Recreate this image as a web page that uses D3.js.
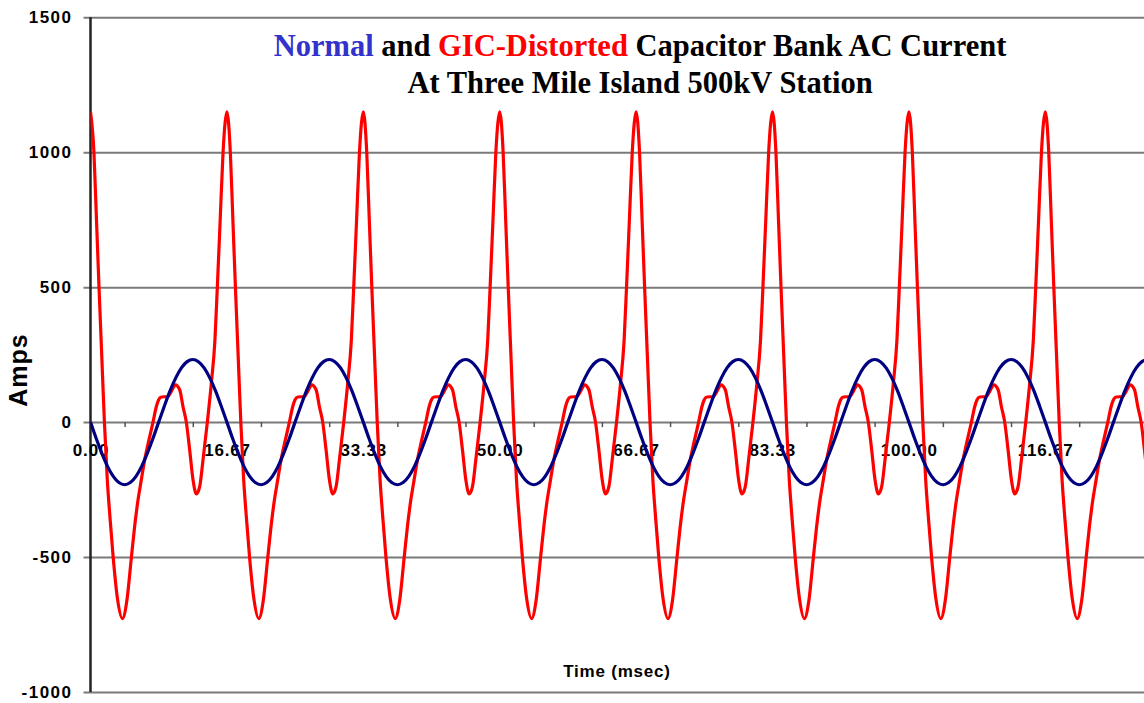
<!DOCTYPE html>
<html>
<head>
<meta charset="utf-8">
<script src="https://cdn.jsdelivr.net/npm/d3@7"></script>
<style>
  body { margin: 0; background: #fff; }
  svg { display: block; }
</style>
</head>
<body>
<svg id="chart"></svg>
<script>
let width = 1144
let height = 703

// --------------------------------------------------------------
// Data (one 60 Hz cycle, repeated every cycle)

const cycleMs = 16.67
const cycleCount = 9

// normal current, one cycle
const normalTime = [0, 0.69, 1.39, 2.08, 2.78, 3.47, 4.17, 4.86, 5.56, 6.25, 6.94, 7.64,
  8.33, 9.03, 9.72, 10.42, 11.11, 11.81, 12.5, 13.19, 13.89, 14.58, 15.28, 15.97]
const normalAmps = [0, -60, -116, -164, -201, -224, -232, -224, -201, -164, -116, -60,
  0, 60, 116, 164, 201, 224, 232, 224, 201, 164, 116, 60]

// GIC-distorted current, one cycle
const gicTime = [0, 0.42, 0.73, 1.04, 1.37, 1.7, 2.05, 2.4, 2.77, 3.3, 3.9, 4.45, 5.0,
  5.4, 5.81, 6.21, 6.62, 7.15, 7.64, 8.05, 8.33, 8.66, 9.47, 9.88, 10.37, 10.9, 11.3,
  11.71, 12.12, 12.53, 12.94, 13.35, 13.75, 14.28, 14.77, 15.2, 15.5, 15.85, 16.2, 16.45]
const gicAmps = [1150, 1000, 750, 500, 250, 0, -213, -360, -500, -655, -728, -660, -500,
  -385, -288, -214, -140, -65, 0, 58, 83, 93, 95, 114, 138, 120, 58,
  0, -103, -214, -266, -238, -140, 0, 145, 300, 500, 750, 1000, 1110]

const xLabelValues = [0, 16.67, 33.33, 50, 66.67, 83.33, 100, 116.67]
const xLabels = ['0.00', '16.67', '33.33', '50.00', '66.67', '83.33', '100.00', '116.67']
const xMinorTicks = [4.17, 12.5, 20.83, 29.17, 37.5, 45.83, 54.17, 62.5, 70.83, 79.17,
  87.5, 95.83, 104.17, 112.5, 120.83, 129.17]
const yTicks = [-1000, -500, 0, 500, 1000, 1500]

// lay the measured cycle end to end
function buildSeries(times, amps) {
  let out = []
  for (let c = 0; c < cycleCount; c++) {
    times.forEach((t, i) => out.push({ t: c * cycleMs + t, v: amps[i] }))
  }
  return out
}
const normalData = buildSeries(normalTime, normalAmps)
const gicData = buildSeries(gicTime, gicAmps)

// --------------------------------------------------------------
// Scales

const plotLeft = 90.5
const plotTop = 17.3
const plotBottom = 692

const x = d3.scaleLinear().domain([0, 8 * cycleMs]).range([plotLeft, plotLeft + 8 * 136.4])
const y = d3.scaleLinear().domain([-1000, 1500]).range([plotBottom, plotTop])

const svg = d3.select('#chart').attr('width', width).attr('height', height)

svg.append('defs').append('clipPath').attr('id', 'plotClip')
  .append('rect')
  .attr('x', plotLeft)
  .attr('y', plotTop - 10)
  .attr('width', width - plotLeft)
  .attr('height', plotBottom - plotTop + 20)

// --------------------------------------------------------------
// Grid + axes

const grid = svg.append('g')
  .attr('transform', `translate(${plotLeft - 7},0)`)
  .call(d3.axisRight(y).tickValues(yTicks).tickSize(width).tickFormat(''))
grid.select('.domain').remove()
grid.selectAll('line').attr('stroke', '#7a7a7a').attr('stroke-width', 2)

const yAxis = svg.append('g')
  .attr('transform', `translate(${plotLeft},0)`)
  .call(d3.axisLeft(y).tickValues(yTicks).tickSize(0).tickPadding(18).tickFormat((d) => String(d)))
yAxis.select('.domain').remove()
yAxis.selectAll('text')
  .attr('font-family', 'Liberation Sans, Arial, sans-serif')
  .attr('font-weight', 'bold')
  .attr('font-size', '17px')
  .attr('letter-spacing', '1.5px')
  .attr('fill', '#000')

svg.append('line')
  .attr('x1', plotLeft).attr('x2', plotLeft)
  .attr('y1', plotTop).attr('y2', plotBottom)
  .attr('stroke', '#222')
  .attr('stroke-width', 2.5)

const xTicks = svg.append('g')
  .attr('transform', `translate(0,${y(0)})`)
  .call(d3.axisBottom(x).tickValues(xMinorTicks).tickSize(5).tickFormat(''))
xTicks.select('.domain').remove()
xTicks.selectAll('line').attr('stroke', '#555').attr('stroke-width', 1.5)

const xAxis = svg.append('g')
  .attr('transform', `translate(0,${y(0)})`)
  .call(d3.axisBottom(x).tickValues(xLabelValues).tickSize(0).tickPadding(22)
    .tickFormat((d, i) => xLabels[i]))
xAxis.select('.domain').remove()
xAxis.selectAll('text')
  .attr('font-family', 'Liberation Sans, Arial, sans-serif')
  .attr('font-weight', 'bold')
  .attr('font-size', '17px')
  .attr('letter-spacing', '0.8px')
  .attr('fill', '#000')

// --------------------------------------------------------------
// Lines

const line = d3.line()
  .x((d) => x(d.t))
  .y((d) => y(d.v))
  .curve(d3.curveMonotoneX)

const plot = svg.append('g').attr('clip-path', 'url(#plotClip)')

plot.append('path')
  .datum(gicData)
  .attr('d', line)
  .attr('fill', 'none')
  .attr('stroke', '#ff0000')
  .attr('stroke-width', 3.2)

plot.append('path')
  .datum(normalData)
  .attr('d', line)
  .attr('fill', 'none')
  .attr('stroke', '#000080')
  .attr('stroke-width', 3.2)

// --------------------------------------------------------------
// Titles

const title = svg.append('text')
  .attr('x', 640)
  .attr('y', 56)
  .attr('text-anchor', 'middle')
  .attr('font-family', 'Liberation Serif, Times New Roman, serif')
  .attr('font-weight', 'bold')
  .attr('font-size', '30.5px')
title.append('tspan').attr('fill', '#3333cc').text('Normal')
title.append('tspan').attr('fill', '#000').text(' and ')
title.append('tspan').attr('fill', '#ff0000').text('GIC-Distorted')
title.append('tspan').attr('fill', '#000').text(' Capacitor Bank AC Current')

svg.append('text')
  .attr('x', 640)
  .attr('y', 93)
  .attr('text-anchor', 'middle')
  .attr('font-family', 'Liberation Serif, Times New Roman, serif')
  .attr('font-weight', 'bold')
  .attr('font-size', '30.5px')
  .text('At Three Mile Island 500kV Station')

svg.append('text')
  .attr('x', 617)
  .attr('y', 677)
  .attr('text-anchor', 'middle')
  .attr('font-family', 'Liberation Sans, Arial, sans-serif')
  .attr('font-weight', 'bold')
  .attr('font-size', '17px')
  .attr('letter-spacing', '0.8px')
  .text('Time (msec)')

svg.append('text')
  .attr('transform', 'translate(27,370) rotate(-90)')
  .attr('text-anchor', 'middle')
  .attr('font-family', 'Liberation Sans, Arial, sans-serif')
  .attr('font-weight', 'bold')
  .attr('font-size', '25px')
  .attr('letter-spacing', '1px')
  .text('Amps')
</script>
</body>
</html>
